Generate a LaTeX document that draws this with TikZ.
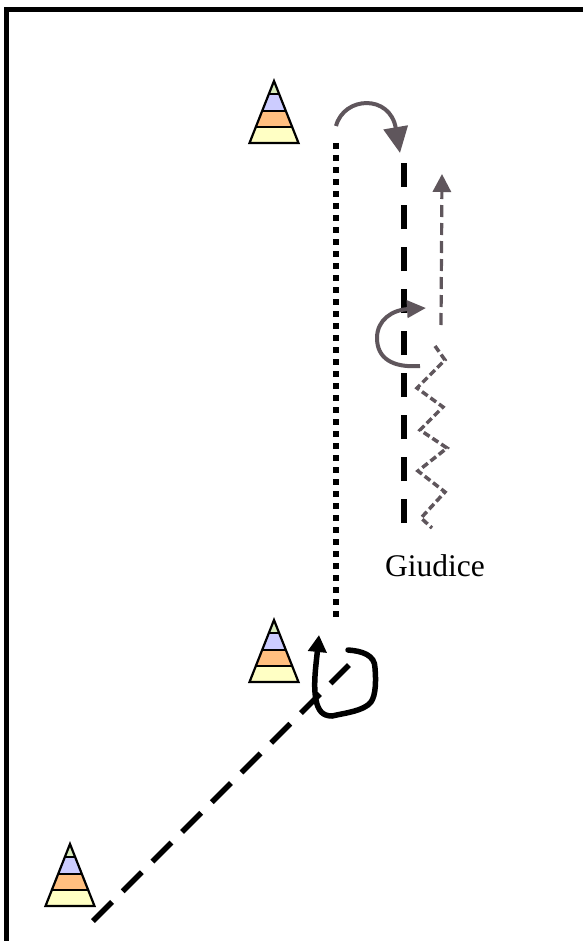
\documentclass[tikz,border=0pt]{standalone}
\usepackage{fontspec}
\setmainfont{Liberation Serif}
\usetikzlibrary{arrows.meta}
\definecolor{conegreen}{HTML}{D8ECBC}
\definecolor{conelav}{HTML}{CCCCFF}
\definecolor{coneor}{HTML}{FFBF80}
\definecolor{coneyel}{HTML}{FFFFC4}
\definecolor{gr}{HTML}{5F565C}
\tikzset{
conepic/.pic={
\fill[conegreen] (0,0) -- (-5.2,13) -- (5.2,13) -- cycle;
\fill[conelav] (-5.2,13) -- (-12,30) -- (12,30) -- (5.2,13) -- cycle;
\fill[coneor] (-12,30) -- (-18.5,46) -- (18.5,46) -- (12,30) -- cycle;
\fill[coneyel] (-18.5,46) -- (-24.5,62) -- (24.5,62) -- (18.5,46) -- cycle;
\foreach \a/\b in {5.2/13, 12/30, 18.5/46}{
\draw[line width=2pt] (-\a,\b) -- (\a,\b);
}
\draw[line width=2.2pt, line join=miter] (0,0) -- (-24.5,62) -- (24.5,62) -- cycle;
},
run/.style={line width=6pt, black, dash pattern=on 24pt off 18pt},
runsolo/.style={line width=5.5pt, black, dash pattern=on 27pt off 15pt},
walk/.style={line width=6pt, black, dash pattern=on 6pt off 6pt},
greydash/.style={line width=3.2pt, gr, dash pattern=on 12pt off 6pt},
zigdash/.style={line width=3.5pt, gr, dash pattern=on 7pt off 3.5pt},
turn/.style={line width=4pt, gr},
loopturn/.style={line width=5.5pt, black, line cap=round}
}
\begin{document}
\begin{tikzpicture}[x=1pt,y=-1pt]
\useasboundingbox (0,0) rectangle (583,941);
\fill[white] (0,0) rectangle (583,941);
% frame
\draw[line width=5pt] (6,941) -- (6,9.5) -- (583,9.5);
% cones
\foreach \x/\y in {274/81, 274/620, 70/844}{
\pic at (\x,\y) {conepic};
}
\coordinate (startdiag) at (93,921);
\coordinate (enddiag) at (349,665);
\coordinate (walktop) at (336,143);
\coordinate (walkbot) at (336,617);
\coordinate (runbot) at (404,523);
\coordinate (runtop) at (404,163);
% lines
\draw[runsolo] (startdiag) -- (enddiag);
\draw[walk] (walktop) -- (walkbot);
\draw[run] (runbot) -- (runtop);
% top turn
\coordinate (arcstart) at (336,126);
\coordinate (arcend) at (400,153);
\draw[turn, -{Triangle[length=26pt,width=24pt]}] (arcstart) .. controls (344,96) and (390,94) .. (arcend);
% middle turn
\coordinate (semistart) at (420,366);
\coordinate (semiend) at (426,308);
\draw[turn, -{Triangle[length=19pt,width=17pt]}] (semistart) .. controls (392,368) and (377,358) .. (377,338) .. controls (377,320) and (392,310) .. (semiend);
% zigzag
\draw[zigdash] (435,346) -- (445,360) -- (417,388) -- (443,407) -- (420,430) -- (447,448) -- (418,471) -- (445,492) -- (421,518) -- (432,528);
\coordinate (greybot) at (441,325);
\coordinate (greytop) at (442,174);
\draw[greydash, -{Triangle[length=18pt,width=18pt]}] (greybot) -- (greytop);
% loop
\coordinate (loopstart) at (348,650);
\coordinate (looptip) at (319,635);
\draw[loopturn, -{Triangle[length=17pt,width=18pt]}] (loopstart) .. controls (362,651) and (375,655) .. (375,668) .. controls (376,680) and (376,695) .. (371,702) .. controls (364,711) and (345,713) .. (332,716) .. controls (322,716) and (318,710) .. (316,700) .. controls (313,685) and (316,665) .. (looptip);
\node[anchor=base, inner sep=0pt, font=\fontsize{31.5}{34}\selectfont] (giudice) at (435,576) {Giudice};
\end{tikzpicture}
\end{document}
